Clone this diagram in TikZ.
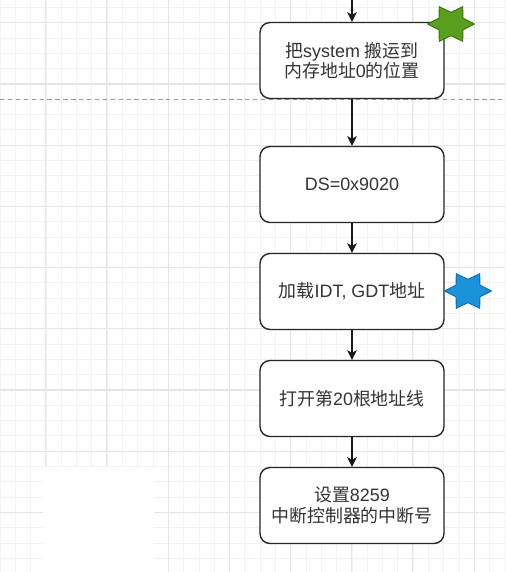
\documentclass[tikz,border=0pt]{standalone}
\usepackage{fontspec}
\setmainfont{Liberation Sans}
\newfontfamily\cjk{Noto Sans CJK SC}
\usetikzlibrary{shapes.geometric}
\usetikzlibrary{arrows.meta}
\definecolor{stargreen}{HTML}{5A9E1E}
\definecolor{stargreenline}{HTML}{2D7600}
\definecolor{starblue}{HTML}{1A93DC}
\definecolor{starblueline}{HTML}{0A6EAF}
\tikzset{
  stepbox/.style={draw=black!85, line width=0.8pt, fill=white, rounded corners=0.2cm,
    minimum width=3.68cm, minimum height=1.52cm, align=center, text=black!80,
    font=\fontsize{10.2}{11.6}\selectfont},
  flow/.style={-{Stealth[length=5.5pt,width=5.5pt,inset=1.5pt]}, line width=0.8pt, black!90},
  gridminor/.style={black!5, line width=0.5pt},
  gridmajor/.style={black!10, line width=0.6pt}
}
\newcommand{\createstar}[5]{\node[star, star points=6, star point ratio=1.7, shape border rotate=90,
  minimum size=0.94cm, inner sep=0pt, yscale=0.85, line width=0.5pt, fill=#4, draw=#5] (#1) at (#2,#3) {};}

\begin{document}
\begin{tikzpicture}[x=0.02cm,y=-0.02cm]
  \useasboundingbox (0,0) rectangle (505,572);
  \fill[white] (0,0) rectangle (505,572);
  % grid
  \foreach \k in {0,...,33} {\draw[gridminor] (0.1+15.3*\k,0) -- (0.1+15.3*\k,572);}
  \foreach \k in {0,...,38} {\draw[gridminor] (0,-7.8+15.3*\k) -- (505,-7.8+15.3*\k);}
  \foreach \k in {0,...,8} {\draw[gridmajor] (-15.5+61.2*\k,0) -- (-15.5+61.2*\k,572);}
  \foreach \k in {0,...,10} {\draw[gridmajor] (0,-38.4+61.2*\k) -- (505,-38.4+61.2*\k);}
  \fill[white] (43,467) rectangle (154,572);
  \draw[black!40, dash pattern=on 2.5pt off 2pt] (0,99) -- (505,99);

  % boxes
  \node[stepbox] (sys) at (352,60.5) {{\cjk 把}system {\cjk 搬运到}\\{\cjk 内存地址}0{\cjk 的位置}};
  \node[stepbox] (ds) at (352,184.5) {DS=0x9020};
  \node[stepbox] (idt) at (352,291.5) {{\cjk 加载}IDT, GDT{\cjk 地址}};
  \node[stepbox] (a20) at (352,398.5) {{\cjk 打开第}20{\cjk 根地址线}};
  \node[stepbox] (pic) at (352,505.5) {{\cjk 设置}8259\\{\cjk 中断控制器的中断号}};

  % arrows
  \coordinate (top) at (352,0);
  \draw[flow] (top) -- (sys);
  \draw[flow] (sys) -- (ds);
  \draw[flow] (ds) -- (idt);
  \draw[flow] (idt) -- (a20);
  \draw[flow] (a20) -- (pic);

  % stars
  \createstar{gstar}{451}{24}{stargreen}{stargreenline}
  \createstar{bstar}{468}{291}{starblue}{starblueline}
\end{tikzpicture}
\end{document}
